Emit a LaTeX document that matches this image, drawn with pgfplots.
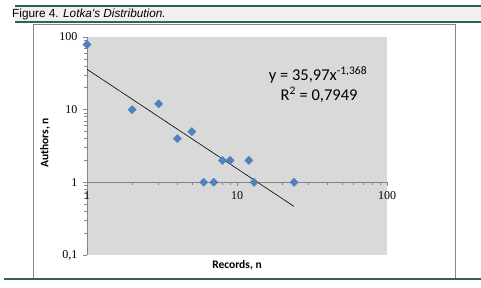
\documentclass[border=0pt]{standalone}
\usepackage{pgfplots}
\pgfplotsset{compat=1.18}
\usepackage{fontspec}
\setmainfont{Liberation Serif}
\newfontfamily\carlito{Carlito}
\newfontfamily\arialf{Liberation Sans}
\definecolor{teal1}{HTML}{2E6262}
\definecolor{plotgray}{HTML}{D9D9D9}
\definecolor{markblue}{HTML}{4F81BD}
\definecolor{axgray}{HTML}{868686}
\begin{document}
\begin{tikzpicture}
\begin{scope}[x=1pt,y=1pt]
\useasboundingbox (0,0) rectangle (481,288);
\fill[white] (0,0) rectangle (481,288);
% title band
\fill[black!6] (15,266) rectangle (481,282);
\draw[teal1, line width=1.5pt] (15,282) -- (481,282);
\draw[teal1, line width=2pt] (15,266) -- (481,266);
\node[anchor=base west, inner sep=0pt] at (12,270) {\arialf\fontsize{11.8}{14}\selectfont Figure 4. \textit{Lotka's Distribution.}};
% chart frame
\draw[axgray, line width=0.8pt] (33,10) rectangle (455,264);
\draw[teal1, line width=2.5pt] (4,9) -- (481,9);
\end{scope}
\begin{axis}[
  at={(87pt,33pt)}, anchor=south west,
  scale only axis, width=300pt, height=218pt,
  xmode=log, ymode=log,
  xmin=1, xmax=100, ymin=0.1, ymax=100,
  axis background/.style={fill=plotgray},
  axis x line=middle, axis y line=left,
  axis line style={axgray, -, line width=0.6pt},
  hide obscured x ticks=false, hide obscured y ticks=false,
  xtick={1,10,100}, xticklabels={1,10,100},
  ytick={0.1,1,10,100}, yticklabels={{0,1},1,10,100},
  minor tick num=0, minor xtick={}, minor ytick={},
  xtick align=outside, ytick align=outside,
  major tick length=4pt,
  tick style={axgray, line width=0.6pt},
  ticklabel style={font=\fontsize{12}{14}\selectfont},
  xticklabel style={yshift=-2pt},
  yticklabel style={xshift=-2pt},
  /pgf/number format/assume math mode=true,
  clip=false,
]
\addplot[only marks, mark=square*, mark size=2.9pt, color=markblue,
  mark options={rotate=45, fill=markblue, draw=markblue}] coordinates {
  (1,79) (2,10) (3,12) (4,4) (5,5) (6,1) (7,1) (8,2) (9,2) (12,2) (13,1) (24,1)
};
\addplot[black, line width=0.6pt, no marks] coordinates {(1,35.97) (24,0.466)};
\end{axis}
\begin{scope}[x=1pt,y=1pt]
\node at (318,213) {\carlito\fontsize{16.5}{19}\selectfont y = 35,97x\textsuperscript{-1,368}};
\node at (319,193) {\carlito\fontsize{16.5}{19}\selectfont R\textsuperscript{2} = 0,7949};
\node[rotate=90] at (45,145) {\carlito\bfseries\fontsize{11.5}{13}\selectfont Authors, n};
\node at (237,23) {\carlito\bfseries\fontsize{11.5}{13}\selectfont Records, n};
\end{scope}
\end{tikzpicture}
\end{document}
